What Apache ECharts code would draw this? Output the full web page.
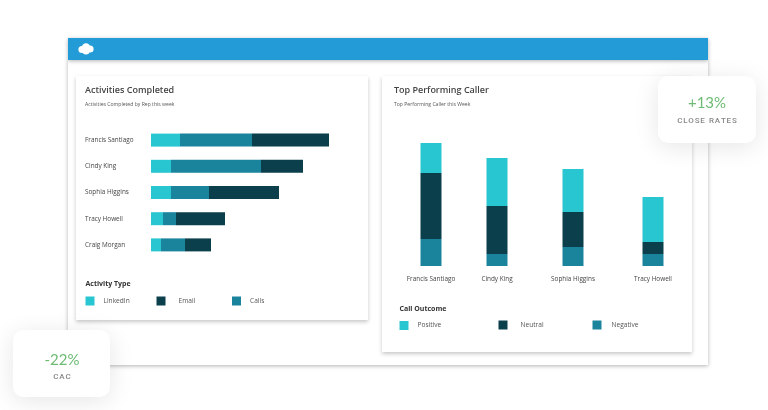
<!DOCTYPE html>
<html>
<head>
<meta charset="utf-8">
<script src="https://cdn.jsdelivr.net/npm/echarts@6/dist/echarts.min.js"></script>
<style>
html, body { margin: 0; padding: 0; background: #fff; }
#chartData { width: 768px; height: 410px; filter: blur(0.45px); }
</style>
</head>
<body>
<div id="chartData"></div>
<script>
// Activities Completed
var reps = ['Francis Santiago', 'Cindy King', 'Sophia Higgins', 'Tracy Howell', 'Craig Morgan'];
var linkedin = [14.5, 10, 10, 6, 5];
var calls = [36, 45, 19, 6.5, 12];
var email = [38.5, 21, 35, 24.5, 13];

// Top Performing Caller
var callers = ['Francis Santiago', 'Cindy King', 'Sophia Higgins', 'Tracy Howell'];
var negative = [27, 12, 19, 12];
var neutral = [66, 48, 35, 12];
var positive = [30, 48, 43, 45];

var LIGHT = '#27c6d0', MID = '#1a849c', DARK = '#0b3f4c';
var FONT = '"Open Sans", sans-serif';

// the bars on the right are not evenly spaced, so each caller gets its own grid
var callerCenters = [431, 497, 573, 653];

var myChart = echarts.init(document.getElementById('chartData'));

function heading(text, x, y, size, weight, color) {
    return {
        text: text, left: x, top: y, padding: 0,
        textStyle: { fontFamily: FONT, fontSize: size, fontWeight: weight, color: color }
    };
}

function legendItem(name, x, y, textGap) {
    return {
        data: [{ name: name, icon: 'rect' }],
        left: x, top: y, padding: 0,
        itemWidth: 9, itemHeight: 9,
        selectedMode: false,
        textStyle: { fontFamily: FONT, fontSize: 6.6, color: '#555', padding: [0, 0, 0, textGap] }
    };
}

function panel(x, y, w, h, blur, shadow, offY, r, z) {
    return {
        type: 'rect', z: z, silent: true,
        shape: { x: x, y: y, width: w, height: h, r: r || 0 },
        style: { fill: '#fff', shadowBlur: blur, shadowColor: shadow, shadowOffsetY: offY }
    };
}

function blob(cx, cy, r) {
    return { type: 'circle', z: 1, silent: true, shape: { cx: cx, cy: cy, r: r }, style: { fill: '#fff' } };
}

function statText(text, x, y, font, color) {
    return {
        type: 'text', z: 21, silent: true, x: x, y: y,
        style: { text: text, fill: color, font: font, align: 'center', verticalAlign: 'middle' }
    };
}

var grids = [{ left: 151, top: 127, width: 180, height: 131 }];
var xAxes = [{ type: 'value', gridIndex: 0, min: 0, max: 90, show: false }];
var yAxes = [{
    type: 'category', gridIndex: 0, data: reps, inverse: true,
    axisLine: { show: false }, axisTick: { show: false },
    axisLabel: { margin: 66, align: 'left', padding: [0, 0, 2, 0], fontFamily: FONT, fontSize: 6.4, color: '#444' }
}];
var series = [
    { name: 'LinkedIn', type: 'bar', stack: 'act', barWidth: 13, itemStyle: { color: LIGHT }, data: linkedin },
    { name: 'Calls', type: 'bar', stack: 'act', barWidth: 13, itemStyle: { color: MID }, data: calls },
    { name: 'Email', type: 'bar', stack: 'act', barWidth: 13, itemStyle: { color: DARK }, data: email }
];

callerCenters.forEach(function (center, i) {
    var g = i + 1;
    grids.push({ left: center - 20, top: 136, width: 40, height: 130 });
    xAxes.push({
        type: 'category', gridIndex: g, data: [callers[i]],
        axisLine: { show: false }, axisTick: { show: false },
        axisLabel: { margin: 10, interval: 0, fontFamily: FONT, fontSize: 6.4, color: '#444' }
    });
    yAxes.push({ type: 'value', gridIndex: g, min: 0, max: 130, show: false });
    [['Negative', MID, negative], ['Neutral', DARK, neutral], ['Positive', LIGHT, positive]].forEach(function (s) {
        series.push({
            name: s[0], type: 'bar', stack: 'call' + g, barWidth: 21,
            xAxisIndex: g, yAxisIndex: g,
            itemStyle: { color: s[1] }, data: [s[2][i]]
        });
    });
});

var option = {
    animation: false,
    backgroundColor: '#fff',
    title: [
        heading('Activities Completed', 85, 85.5, 9, 600, '#444'),
        heading('Activities Completed by Rep this week', 85, 102, 5.1, 400, '#555'),
        heading('Activity Type', 85.5, 280, 7, 700, '#333'),
        heading('Top Performing Caller', 394, 85.5, 9, 600, '#444'),
        heading('Top Performing Caller this Week', 394, 102, 5.1, 400, '#555'),
        heading('Call Outcome', 399.5, 305, 7, 700, '#333')
    ],
    legend: [
        legendItem('LinkedIn', 85.5, 296.5, 4),
        legendItem('Email', 156.5, 296.5, 8),
        legendItem('Calls', 232, 296.5, 4),
        legendItem('Positive', 399.5, 321, 4),
        legendItem('Neutral', 498.5, 320.5, 8),
        legendItem('Negative', 592.5, 320.5, 5)
    ],
    tooltip: {},
    grid: grids,
    xAxis: xAxes,
    yAxis: yAxes,
    series: series,
    graphic: {
        elements: [
            panel(68, 60, 640, 305, 4, 'rgba(0,0,0,0.3)', 1),
            panel(76, 76, 292, 244, 4, 'rgba(0,0,0,0.22)', 2),
            panel(382, 76, 310, 276, 4, 'rgba(0,0,0,0.22)', 2),
            panel(68, 38, 640, 22, 4, 'rgba(0,0,0,0.3)', 1),
            { type: 'rect', z: 1, silent: true, shape: { x: 68, y: 38, width: 640, height: 22 }, style: { fill: '#229bd6' } },
            blob(82, 49.5, 3.6), blob(86, 47.5, 4.2), blob(90, 49, 3.6), blob(86, 51, 3.6),
            panel(658, 76, 98, 67, 24, 'rgba(0,0,0,0.1)', 4, 10, 20),
            panel(13, 330, 97, 67, 24, 'rgba(0,0,0,0.1)', 4, 10, 20),
            statText('+13%', 707, 103, '15px Lato, sans-serif', '#6dbb74'),
            statText('C\u200AL\u200AO\u200AS\u200AE\u2002R\u200AA\u200AT\u200AE\u200AS', 707, 121, '500 8px Roboto, sans-serif', '#888'),
            statText('-22%', 62, 360, '15px Lato, sans-serif', '#6dbb74'),
            statText('C\u200AA\u200AC', 62, 376.5, '500 8px Roboto, sans-serif', '#888')
        ]
    }
};

myChart.setOption(option);
</script>
</body>
</html>
